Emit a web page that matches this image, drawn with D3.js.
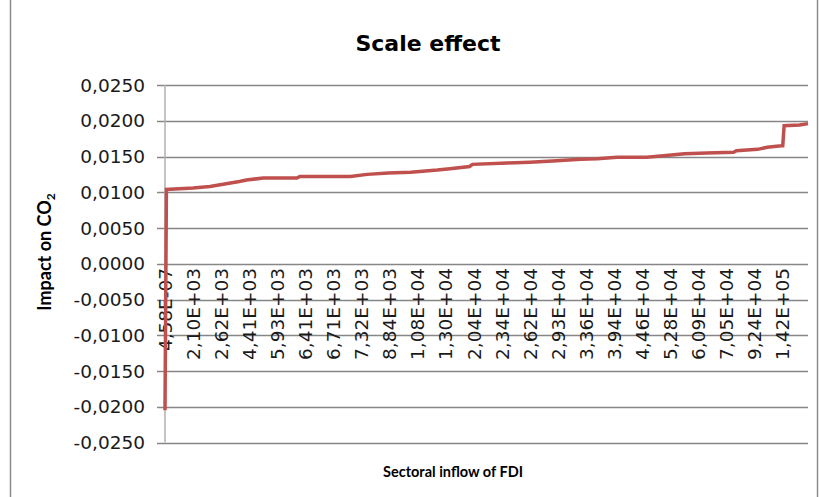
<!DOCTYPE html>
<html>
<head>
<meta charset="utf-8">
<script src="https://cdn.jsdelivr.net/npm/d3@7"></script>
<style>
  body { margin: 0; background: #fff; }
</style>
</head>
<body>
<div id="chart-container"></div>
<script>

//Chart data: category index where the value changes, and the impact read at that point

const pointIndex = [0, 1, 20, 32, 53, 58, 70, 94, 96, 132, 144, 159, 175, 194, 203, 217, 219,
  244, 260, 279, 296, 308, 322, 343, 355, 370, 386, 405, 407, 422, 429, 439, 440, 441, 452, 458];
const impact = [-0.0205, 0.0104, 0.0106, 0.0108, 0.0115, 0.0117, 0.0120, 0.0120, 0.0122, 0.0122,
  0.0125, 0.0127, 0.0128, 0.0131, 0.0133, 0.0136, 0.0139, 0.0141, 0.0142, 0.0144, 0.0146, 0.0147,
  0.0149, 0.0149, 0.0151, 0.0154, 0.0155, 0.0156, 0.0158, 0.0160, 0.0163, 0.0165, 0.0165, 0.0193,
  0.0194, 0.0196];

//Category axis labels (every 20th category is labelled)

const categoryCount = 459;
const labelStep = 20;
const xLabels = ["4,58E-07", "2,10E+03", "2,62E+03", "4,41E+03", "5,93E+03", "6,41E+03",
  "6,71E+03", "7,32E+03", "8,84E+03", "1,08E+04", "1,30E+04", "2,04E+04", "2,34E+04",
  "2,62E+04", "2,93E+04", "3,36E+04", "3,94E+04", "4,46E+04", "5,28E+04", "6,09E+04",
  "7,05E+04", "9,24E+04", "1,42E+05"];

const yTicks = [-0.025, -0.02, -0.015, -0.01, -0.005, 0, 0.005, 0.01, 0.015, 0.02, 0.025];

//Define chart dimensions and plot area

const width = 821;
const height = 497;
const plot = { left: 165, right: 808, top: 85, bottom: 442.5 };

//Define x and y scales

const xScale = d3.scaleLinear()
  .domain([0, categoryCount - 1])
  .range([plot.left, plot.right]);

const yScale = d3.scaleLinear()
  .domain([-0.025, 0.025])
  .range([plot.bottom, plot.top]);

const locale = d3.formatLocale({ decimal: ",", thousands: ".", grouping: [3], currency: ["", ""], minus: "-" });
const yFormat = locale.format(".4f");

//Create the SVG element

const svg = d3.select("#chart-container")
  .append("svg")
  .attr("width", width)
  .attr("height", height)
  .style("font-family", "'DejaVu Sans', sans-serif");

//Chart area border

svg.append("rect")
  .attr("x", 10.5)
  .attr("y", -5)
  .attr("width", 807)
  .attr("height", height + 10)
  .attr("fill", "none")
  .attr("stroke", "#8c8c8c")
  .attr("stroke-width", 1.5);

//Add horizontal gridlines (with tick marks sticking out to the left)

svg.append("g")
  .attr("class", "yGrid")
  .selectAll("line")
  .data(yTicks)
  .join("line")
  .attr("x1", plot.left - 8)
  .attr("x2", plot.right)
  .attr("y1", (d) => Math.round(yScale(d)) + 0.5)
  .attr("y2", (d) => Math.round(yScale(d)) + 0.5)
  .attr("stroke", "#868686")
  .attr("stroke-width", 1.3);

//Add the y-axis line and labels

svg.append("line")
  .attr("x1", plot.left)
  .attr("x2", plot.left)
  .attr("y1", plot.top)
  .attr("y2", plot.bottom)
  .attr("stroke", "#b0b0b0")
  .attr("stroke-width", 1.5);

svg.append("g")
  .attr("class", "yLabels")
  .selectAll("text")
  .data(yTicks)
  .join("text")
  .attr("x", 145)
  .attr("y", (d) => yScale(d))
  .attr("dy", "0.36em")
  .attr("text-anchor", "end")
  .style("font-size", "18.5px")
  .style("fill", "#1a1a1a")
  .text((d) => yFormat(d));

//Add the x-axis labels, rotated, hanging under the zero line

svg.append("g")
  .attr("class", "xLabels")
  .selectAll("text")
  .data(xLabels)
  .join("text")
  .attr("transform", (d, i) => `translate(${xScale(i * labelStep)}, 268) rotate(-90)`)
  .attr("dy", "0.36em")
  .attr("text-anchor", "end")
  .style("font-size", "18.5px")
  .style("fill", "#1a1a1a")
  .text((d) => d);

//Draw the line

const points = pointIndex.map((d, i) => ({ idx: d, value: impact[i] }));

const line = d3.line()
  .x((d) => xScale(d.idx))
  .y((d) => yScale(d.value));

svg.append("path")
  .datum(points)
  .attr("fill", "none")
  .attr("stroke", "#c0504d")
  .attr("stroke-width", 3.5)
  .attr("stroke-linejoin", "miter")
  .attr("d", line);

//Add chart title

svg.append("text")
  .attr("x", 428)
  .attr("y", 51)
  .attr("text-anchor", "middle")
  .style("font-size", "22px")
  .style("font-weight", "bold")
  .style("fill", "#000")
  .text("Scale effect");

//Add axis titles

svg.append("text")
  .attr("x", 453)
  .attr("y", 477)
  .attr("text-anchor", "middle")
  .style("font-family", "Lato, sans-serif")
  .style("font-size", "14.5px")
  .style("font-weight", "bold")
  .style("fill", "#000")
  .text("Sectoral inflow of FDI");

const yTitle = svg.append("text")
  .attr("transform", "translate(51, 252) rotate(-90)")
  .attr("text-anchor", "middle")
  .style("font-family", "Lato, sans-serif")
  .style("font-size", "18px")
  .style("font-weight", "bold")
  .style("fill", "#000");

yTitle.append("tspan").text("Impact on CO");
yTitle.append("tspan")
  .attr("dy", 4)
  .style("font-size", "12px")
  .text("2");

</script>
</body>
</html>
